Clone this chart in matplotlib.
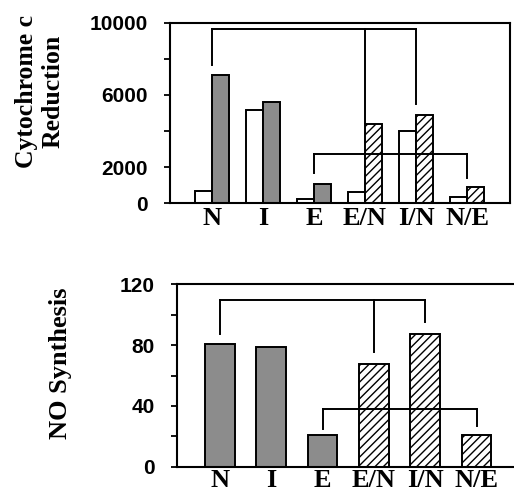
import matplotlib.pyplot as plt
import numpy as np

plt.rcParams['hatch.linewidth'] = 1.0
plt.rcParams['hatch.color'] = '#7a7a7a'

groups = ['N', 'I', 'E', 'E/N', 'I/N', 'N/E']

# cytochrome c reduction: open bar (first) and filled/hatched bar (second)
cyt_open = [700, 5160, 220, 630, 3990, 330]
cyt_fill = [7100, 5580, 1070, 4360, 4860, 870]

no_synth = [80.5, 78.8, 20.8, 67.6, 87.5, 20.8]

# bar styles: first three grey, last three hatched
is_hatched = [False, False, False, True, True, True]

# brackets: (group indices, horizontal level, drop levels)
cyt_brackets = [([0, 3, 4], 9630, [7650, 4450, 5490]),
                ([2, 5], 2750, [1680, 1400])]
no_brackets = [([0, 3, 4], 110, [87, 75.7, 95.4]),
               ([2, 5], 38, [24.8, 26.8])]

grey = '#8c8c8c'
serif = 'Liberation Serif'
sans = 'Liberation Sans'

fig = plt.figure(figsize=(5.14, 4.92), dpi=100)
ax1 = fig.add_axes([0.331, 0.587, 0.661, 0.367])
ax2 = fig.add_axes([0.344, 0.0514, 0.673, 0.3707])

x = np.arange(len(groups))


def style_axis(ax, yticks, ylabels, xpad):
    ax.set_yticks(yticks)
    ax.set_yticklabels(ylabels, fontfamily=sans, fontweight='bold', fontsize=15)
    ax.tick_params(axis='y', direction='out', length=4, width=1.3, pad=12)
    ax.set_xticks(x)
    ax.set_xticklabels(groups, fontfamily=serif, fontweight='bold', fontsize=19)
    ax.tick_params(axis='x', length=0, pad=xpad)
    for s in ax.spines.values():
        s.set_linewidth(1.5)


def draw_brackets(ax, brackets):
    for idx, level, drops in brackets:
        ax.plot([x[idx[0]], x[idx[-1]]], [level, level], color='black', lw=1.4)
        for i, d in zip(idx, drops):
            ax.plot([x[i], x[i]], [level, d], color='black', lw=1.4)


# top panel
w = 0.33
ax1.bar(x - w / 2, cyt_open, width=w, color='white', edgecolor='black', lw=1.4)
for i in range(len(groups)):
    if is_hatched[i]:
        ax1.bar(x[i] + w / 2, cyt_fill[i], width=w, color='white', edgecolor='black',
                lw=1.4, hatch='////')
    else:
        ax1.bar(x[i] + w / 2, cyt_fill[i], width=w, color=grey, edgecolor='black', lw=1.4)
draw_brackets(ax1, cyt_brackets)
ax1.set_xlim(-0.82, 5.84)
ax1.set_ylim(0, 10000)
style_axis(ax1, [0, 2000, 4000, 6000, 8000, 10000],
           ['0', '2000', '', '6000', '', '10000'], 3)

# bottom panel
w2 = 0.58
for i in range(len(groups)):
    if is_hatched[i]:
        ax2.bar(x[i], no_synth[i], width=w2, color='white', edgecolor='black',
                lw=1.4, hatch='////')
    else:
        ax2.bar(x[i], no_synth[i], width=w2, color=grey, edgecolor='black', lw=1.4)
draw_brackets(ax2, no_brackets)
ax2.set_xlim(-0.84, 5.9)
ax2.set_ylim(0, 120)
style_axis(ax2, [0, 20, 40, 60, 80, 100, 120],
           ['0', '', '40', '', '80', '', '120'], 2)
ax2.spines['right'].set_visible(False)

fig.text(40 / 514, 1 - 91.5 / 492, 'Cytochrome c\nReduction', rotation=90,
         ha='center', va='center', fontfamily=serif, fontweight='bold',
         fontsize=18.5, linespacing=1.2)
fig.text(61 / 514, 1 - 363.5 / 492, 'NO Synthesis', rotation=90,
         ha='center', va='center', fontfamily=serif, fontweight='bold',
         fontsize=19)

fig.savefig('out.png', dpi=100)
